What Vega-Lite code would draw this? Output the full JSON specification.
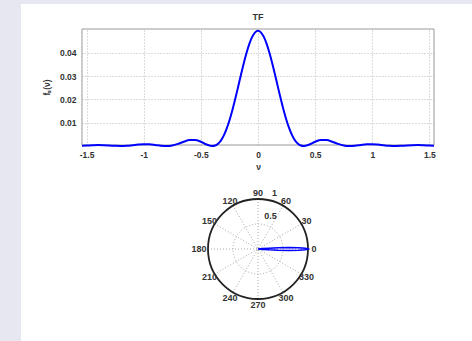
{
  "$schema": "https://vega.github.io/schema/vega-lite/v6.json",
  "width": 451,
  "height": 337,
  "autosize": {"type": "none"},
  "padding": {"left": 21, "top": 4, "right": 0, "bottom": 0},
  "background": "#e7e7f2",
  "config": {
    "view": {"fill": "white", "stroke": null},
    "font": "Liberation Sans",
    "text": {"font": "Liberation Sans"}
  },
  "resolve": {"scale": {"x": "independent", "y": "independent"}},
  "layer": [
    {
      "resolve": {"axis": {"x": "independent"}},
      "layer": [
        {
          "data": {"values": [{"label": "TF"}]},
          "mark": {"type": "rect", "filled": false, "stroke": "#999999", "strokeWidth": 1},
          "encoding": {
            "x": {
              "datum": -1.54, "type": "quantitative",
              "axis": {
                "orient": "top", "offset": -25,
                "values": [-1.5, -1, -0.5, 0, 0.5, 1, 1.5],
                "grid": true, "gridColor": "#b8b8b8", "gridDash": [1, 2], "gridWidth": 1,
                "ticks": false, "domain": false, "labels": false, "title": null
              }
            },
            "x2": {"datum": 1.54},
            "y": {"datum": 0.00044, "type": "quantitative"},
            "y2": {"datum": 0.0502}
          }
        },
        {
          "data": {"values": [
            {"nu": -1.54, "f": 0.00008}, {"nu": -1.5, "f": 0.00018}, {"nu": -1.45, "f": 0.00032}, {"nu": -1.4, "f": 0.00041},
            {"nu": -1.35, "f": 0.00037}, {"nu": -1.3, "f": 0.00024}, {"nu": -1.25, "f": 0.00007}, {"nu": -1.2, "f": 0.0},
            {"nu": -1.15, "f": 0.00009}, {"nu": -1.1, "f": 0.00033}, {"nu": -1.05, "f": 0.00061}, {"nu": -1.0, "f": 0.00079},
            {"nu": -0.95, "f": 0.00075}, {"nu": -0.9, "f": 0.00049}, {"nu": -0.85, "f": 0.00016}, {"nu": -0.8, "f": 0.0},
            {"nu": -0.75, "f": 0.00024}, {"nu": -0.7, "f": 0.00093}, {"nu": -0.65, "f": 0.00184}, {"nu": -0.6, "f": 0.00254},
            {"nu": -0.55, "f": 0.00258}, {"nu": -0.5, "f": 0.00183}, {"nu": -0.45, "f": 0.00066}, {"nu": -0.4, "f": 0.0},
            {"nu": -0.375, "f": 0.00022}, {"nu": -0.35, "f": 0.00096}, {"nu": -0.325, "f": 0.00234}, {"nu": -0.3, "f": 0.00445},
            {"nu": -0.275, "f": 0.00732}, {"nu": -0.25, "f": 0.01094}, {"nu": -0.225, "f": 0.01522}, {"nu": -0.2, "f": 0.02002},
            {"nu": -0.175, "f": 0.02515}, {"nu": -0.15, "f": 0.03037}, {"nu": -0.125, "f": 0.03543}, {"nu": -0.1, "f": 0.04004},
            {"nu": -0.075, "f": 0.04394}, {"nu": -0.05, "f": 0.04691}, {"nu": -0.025, "f": 0.04876}, {"nu": 0.0, "f": 0.0494},
            {"nu": 0.025, "f": 0.04876}, {"nu": 0.05, "f": 0.04691}, {"nu": 0.075, "f": 0.04394}, {"nu": 0.1, "f": 0.04004},
            {"nu": 0.125, "f": 0.03543}, {"nu": 0.15, "f": 0.03037}, {"nu": 0.175, "f": 0.02515}, {"nu": 0.2, "f": 0.02002},
            {"nu": 0.225, "f": 0.01522}, {"nu": 0.25, "f": 0.01094}, {"nu": 0.275, "f": 0.00732}, {"nu": 0.3, "f": 0.00445},
            {"nu": 0.325, "f": 0.00234}, {"nu": 0.35, "f": 0.00096}, {"nu": 0.375, "f": 0.00022}, {"nu": 0.4, "f": 0.0},
            {"nu": 0.45, "f": 0.00066}, {"nu": 0.5, "f": 0.00183}, {"nu": 0.55, "f": 0.00258}, {"nu": 0.6, "f": 0.00254},
            {"nu": 0.65, "f": 0.00184}, {"nu": 0.7, "f": 0.00093}, {"nu": 0.75, "f": 0.00024}, {"nu": 0.8, "f": 0.0},
            {"nu": 0.85, "f": 0.00016}, {"nu": 0.9, "f": 0.00049}, {"nu": 0.95, "f": 0.00075}, {"nu": 1.0, "f": 0.00079},
            {"nu": 1.05, "f": 0.00061}, {"nu": 1.1, "f": 0.00033}, {"nu": 1.15, "f": 0.00009}, {"nu": 1.2, "f": 0.0},
            {"nu": 1.25, "f": 0.00007}, {"nu": 1.3, "f": 0.00024}, {"nu": 1.35, "f": 0.00037}, {"nu": 1.4, "f": 0.00041},
            {"nu": 1.45, "f": 0.00032}, {"nu": 1.5, "f": 0.00018}, {"nu": 1.54, "f": 0.00008}
          ]},
          "mark": {"type": "line", "color": "#0000ff", "strokeWidth": 2, "interpolate": "monotone"},
          "encoding": {
            "x": {
              "field": "nu", "type": "quantitative",
              "scale": {"domain": [-1.54, 1.54], "range": [61, 413], "nice": false, "zero": false},
              "axis": {
                "orient": "bottom", "offset": -196,
                "values": [-1.5, -1, -0.5, 0, 0.5, 1, 1.5],
                "labelExpr": "'' + datum.value",
                "grid": false,
                "ticks": false, "domain": false,
                "labelPadding": 5, "labelFontSize": 8.5, "labelFontWeight": "bold", "labelColor": "#333333",
                "labelFlush": false, "labelOverlap": false,
                "title": "ν", "titleFontSize": 8.5, "titleFontWeight": "bold", "titleColor": "#333333", "titlePadding": 4
              }
            },
            "y": {
              "field": "f", "type": "quantitative",
              "scale": {"domain": [0.00044, 0.0502], "range": [141, 25], "nice": false, "zero": false},
              "axis": {
                "orient": "left", "offset": -61,
                "values": [0.01, 0.02, 0.03, 0.04],
                "labelExpr": "'' + datum.value",
                "grid": true, "gridColor": "#b8b8b8", "gridDash": [1, 2], "gridWidth": 1,
                "ticks": false, "domain": false,
                "labelPadding": 6, "labelFontSize": 8.5, "labelFontWeight": "bold", "labelColor": "#333333",
                "labelOverlap": false,
                "title": "fₛ(ν)", "titleFontSize": 8.5, "titleFontWeight": "bold", "titleColor": "#333333", "titlePadding": 8
              }
            }
          }
        },
        {
          "data": {"values": [{"label": "TF"}]},
          "mark": {"type": "text", "fontSize": 9, "fontWeight": "bold", "color": "#333333", "baseline": "middle", "dy": -12},
          "encoding": {
            "x": {"datum": 0, "type": "quantitative", "axis": null},
            "y": {"datum": 0.0502, "type": "quantitative"},
            "text": {"field": "label"}
          }
        }
      ]
    },
    {
      "encoding": {
        "x": {"field": "px", "type": "quantitative", "scale": {"domain": [-1, 1], "range": [187, 287], "nice": false, "zero": false}, "axis": null},
        "y": {"field": "py", "type": "quantitative", "scale": {"domain": [-1, 1], "range": [295, 195], "nice": false, "zero": false}, "axis": null}
      },
      "layer": [
        {
          "data": {"values": [
            {"px": -1, "py": 0, "px2": 1, "py2": 0},
            {"px": -0.866, "py": -0.5, "px2": 0.866, "py2": 0.5},
            {"px": -0.5, "py": -0.866, "px2": 0.5, "py2": 0.866},
            {"px": 0, "py": -1, "px2": 0, "py2": 1},
            {"px": 0.5, "py": -0.866, "px2": -0.5, "py2": 0.866},
            {"px": 0.866, "py": -0.5, "px2": -0.866, "py2": 0.5}
          ]},
          "mark": {"type": "rule", "stroke": "#a8a8a8", "strokeDash": [1, 2], "strokeWidth": 1},
          "encoding": {"x2": {"field": "px2"}, "y2": {"field": "py2"}}
        },
        {
          "data": {"values": [{"px": 0, "py": 0}]},
          "mark": {"type": "point", "shape": "circle", "size": 2500, "filled": false, "stroke": "#a8a8a8", "strokeDash": [1, 2], "strokeWidth": 1, "opacity": 1}
        },
        {
          "data": {"values": [{"px": 0, "py": 0}]},
          "mark": {"type": "point", "shape": "circle", "size": 10000, "filled": false, "stroke": "#222222", "strokeWidth": 1.8, "opacity": 1}
        },
        {
          "data": {"values": [
            {"px": 1.12, "py": 0, "t": "0"},
            {"px": 0.97, "py": 0.56, "t": "30"},
            {"px": 0.56, "py": 0.97, "t": "60"},
            {"px": 0, "py": 1.12, "t": "90"},
            {"px": -0.56, "py": 0.97, "t": "120"},
            {"px": -0.97, "py": 0.56, "t": "150"},
            {"px": -1.18, "py": 0, "t": "180"},
            {"px": -0.97, "py": -0.56, "t": "210"},
            {"px": -0.56, "py": -0.97, "t": "240"},
            {"px": 0, "py": -1.12, "t": "270"},
            {"px": 0.56, "py": -0.97, "t": "300"},
            {"px": 0.97, "py": -0.56, "t": "330"}
          ]},
          "mark": {"type": "text", "fontSize": 9, "fontWeight": "bold", "color": "#333333", "align": "center", "baseline": "middle"},
          "encoding": {"text": {"field": "t"}}
        },
        {
          "data": {"values": [
            {"px": 0.25, "py": 0.67, "t": "0.5"},
            {"px": 0.33, "py": 1.12, "t": "1"}
          ]},
          "mark": {"type": "text", "fontSize": 9, "fontWeight": "bold", "color": "#333333", "align": "center", "baseline": "middle"},
          "encoding": {"text": {"field": "t"}}
        },
        {
          "data": {"values": [
            {"i": 0, "px": 0, "py": 0},
            {"i": 1, "px": 0.0897, "py": -0.0081},
            {"i": 2, "px": 0.2208, "py": -0.0166},
            {"i": 3, "px": 0.4046, "py": -0.0243},
            {"i": 4, "px": 0.6144, "py": -0.0277},
            {"i": 5, "px": 0.8102, "py": -0.0243},
            {"i": 6, "px": 0.9497, "py": -0.0143},
            {"i": 7, "px": 1.0, "py": 0},
            {"i": 8, "px": 0.9497, "py": 0.0143},
            {"i": 9, "px": 0.8102, "py": 0.0243},
            {"i": 10, "px": 0.6144, "py": 0.0277},
            {"i": 11, "px": 0.4046, "py": 0.0243},
            {"i": 12, "px": 0.2208, "py": 0.0166},
            {"i": 13, "px": 0.0897, "py": 0.0081},
            {"i": 14, "px": 0, "py": 0}
          ]},
          "mark": {"type": "line", "color": "#0000ff", "strokeWidth": 1.5},
          "encoding": {"order": {"field": "i", "type": "quantitative"}}
        }
      ]
    }
  ]
}
